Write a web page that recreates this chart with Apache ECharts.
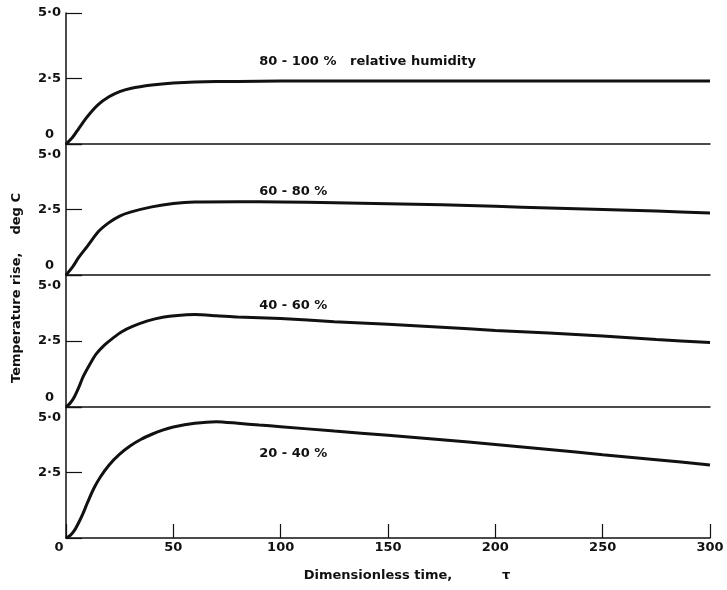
<!DOCTYPE html>
<html>
<head>
<meta charset="utf-8">
<script src="https://cdn.jsdelivr.net/npm/echarts/dist/echarts.min.js"></script>
<style>
html, body { margin: 0; background: #fff; }
#chart { width: 727px; height: 590px; }
</style>
</head>
<body>
<div id="chart"></div>
<script>
// panel captions (top to bottom)
const humidity = ['80 - 100 %   relative humidity', '60 - 80 %', '40 - 60 %', '20 - 40 %'];

// temperature rise (deg C) against dimensionless time tau
const tau80 = [0, 3, 6, 10, 15, 20, 25, 30, 40, 50, 60, 80, 100, 150, 200, 250, 300];
const rise80 = [0, 0.25, 0.6, 1.05, 1.5, 1.8, 2.0, 2.12, 2.25, 2.33, 2.37, 2.39, 2.4, 2.4, 2.4, 2.4, 2.4];

const tau60 = [0, 3, 6, 10, 15, 20, 25, 30, 40, 50, 60, 80, 100, 125, 150, 175, 200, 225, 250, 275, 300];
const rise60 = [0, 0.3, 0.68, 1.1, 1.65, 2.0, 2.25, 2.4, 2.6, 2.73, 2.79, 2.8, 2.79, 2.76, 2.72, 2.68, 2.62, 2.56, 2.5, 2.44, 2.37];

const tau40 = [0, 2, 4, 6, 8, 11, 14, 18, 22, 26, 31, 38, 45, 52, 60, 70, 80, 100, 125, 150, 175, 200, 225, 250, 275, 300];
const rise40 = [0, 0.15, 0.4, 0.75, 1.15, 1.6, 2.0, 2.35, 2.62, 2.85, 3.05, 3.26, 3.4, 3.47, 3.5, 3.46, 3.41, 3.35, 3.23, 3.13, 3.02, 2.9, 2.8, 2.69, 2.56, 2.44];

const tau20 = [0, 2, 4, 6, 8, 10, 13, 16, 20, 25, 30, 35, 40, 45, 50, 60, 70, 80, 90, 100, 125, 150, 175, 200, 225, 250, 275, 300];
const rise20 = [0, 0.1, 0.3, 0.6, 0.95, 1.35, 1.9, 2.33, 2.78, 3.2, 3.52, 3.77, 3.96, 4.12, 4.24, 4.38, 4.44, 4.38, 4.31, 4.25, 4.08, 3.92, 3.75, 3.57, 3.38, 3.18, 2.99, 2.79];

const taus = [tau80, tau60, tau40, tau20];
const rises = [rise80, rise60, rise40, rise20];

// where the caption of each panel sits, in data units
const captionTau = [90, 90, 90, 90];
const captionRise = [3.13, 3.2, 3.83, 3.22];

const ink = '#111';
const font = '"DejaVu Sans", sans-serif';
const tops = [13, 144, 275, 407];
const heights = [131, 131, 132, 131];

let chart = echarts.init(document.getElementById('chart'));

let grids = [], xAxes = [], yAxes = [], series = [];
for (let i = 0; i < 4; i++) {
    let last = i === 3;
    grids.push({ left: 66, right: 17, top: tops[i], height: heights[i] });
    xAxes.push({
        gridIndex: i,
        type: 'value',
        min: 0,
        max: 300,
        interval: 50,
        axisLine: { show: true, onZero: false, lineStyle: { color: ink, width: 1.5 } },
        axisTick: { show: last, inside: true, length: 14, lineStyle: { color: ink, width: 1.2 } },
        axisLabel: {
            show: last,
            margin: 3,
            color: ink,
            fontSize: 13,
            fontWeight: 'bold',
            fontFamily: font,
            formatter: v => v === 0 ? '{z|0}' : String(v),
            rich: { z: { padding: [0, 14, 0, 0], color: ink, fontSize: 13, fontWeight: 'bold', fontFamily: font } }
        },
        splitLine: { show: false },
        name: last ? 'Dimensionless time,           τ' : '',
        nameLocation: 'middle',
        nameGap: 31,
        nameTextStyle: { color: ink, fontSize: 13, fontWeight: 'bold', fontFamily: font, padding: [0, 0, 0, 38] }
    });
    yAxes.push({
        gridIndex: i,
        type: 'value',
        min: 0,
        max: 5,
        interval: 2.5,
        axisLine: { show: true, lineStyle: { color: ink, width: 1.5 } },
        axisTick: { show: true, inside: true, length: 16, lineStyle: { color: ink, width: 1.2 } },
        axisLabel: {
            margin: 5,
            color: ink,
            fontSize: 13,
            fontWeight: 'bold',
            fontFamily: font,
            formatter: function (v) {
                if (v === 0) return last ? '' : '{z|0}';
                if (v === 5) return i === 0 ? '5·0' : '{t|5·0}';
                return '2·5';
            },
            rich: {
                z: { padding: [0, 7, 18, 0], color: ink, fontSize: 13, fontWeight: 'bold', fontFamily: font },
                t: { padding: [22, 0, 0, 0], color: ink, fontSize: 13, fontWeight: 'bold', fontFamily: font }
            }
        },
        splitLine: { show: false }
    });
    series.push({
        type: 'line',
        xAxisIndex: i,
        yAxisIndex: i,
        data: taus[i].map((t, k) => [t, rises[i][k]]),
        showSymbol: false,
        smooth: 0.25,
        lineStyle: { color: ink, width: 3 },
        markPoint: {
            symbol: 'circle',
            symbolSize: 0,
            silent: true,
            label: { show: true, position: 'right', distance: 0, color: ink, fontSize: 13, fontWeight: 'bold', fontFamily: font, formatter: '{b}' },
            data: [{ name: humidity[i], coord: [captionTau[i], captionRise[i]] }]
        }
    });
}

let option = {
    backgroundColor: '#fff',
    animation: false,
    grid: grids,
    xAxis: xAxes,
    yAxis: yAxes,
    series: series,
    graphic: [{
        type: 'text',
        x: 17,
        y: 288,
        rotation: Math.PI / 2,
        style: {
            text: 'Temperature rise,    deg C',
            fill: ink,
            font: 'bold 13px "DejaVu Sans", sans-serif',
            align: 'center',
            verticalAlign: 'middle',
            textAlign: 'center',
            textVerticalAlign: 'middle'
        }
    }]
};
chart.setOption(option);
</script>
</body>
</html>
